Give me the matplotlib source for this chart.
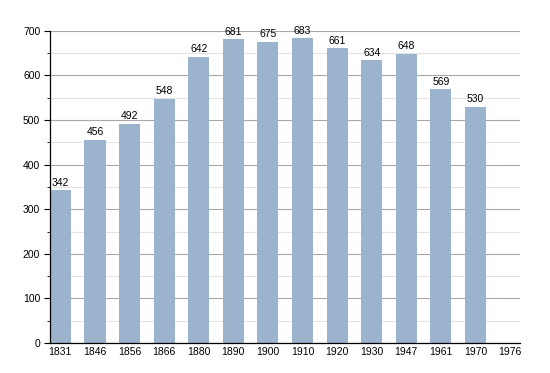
import matplotlib
matplotlib.use("Agg")
import matplotlib.pyplot as plt
from matplotlib.ticker import MultipleLocator

plt.rcParams['font.family'] = ['Liberation Sans', 'DejaVu Sans']

years = ['1831', '1846', '1856', '1866', '1880', '1890', '1900',
         '1910', '1920', '1930', '1947', '1961', '1970', '1976']
population = [342, 456, 492, 548, 642, 681, 675, 683, 661, 634, 648, 569, 530, None]

fig = plt.figure(figsize=(5.5, 3.73), dpi=100)
ax = fig.add_axes([0.0909, 0.0804, 0.854, 0.837])

xs = list(range(len(years)))
for x, v in zip(xs, population):
    if v is None:
        continue
    ax.bar(x, v, width=0.61, color='#9bb3cd', zorder=2)
    ax.text(x, v + 6, str(v), ha='center', va='bottom', fontsize=7.5, zorder=3)

ax.set_xlim(-0.30, 13.28)
ax.set_ylim(0, 700)
ax.yaxis.set_major_locator(MultipleLocator(100))
ax.yaxis.set_minor_locator(MultipleLocator(50))
ax.grid(axis='y', which='major', color='#a8a8a8', linewidth=0.8, zorder=0)
ax.grid(axis='y', which='minor', color='#e2e2e2', linewidth=0.8, zorder=0)
ax.set_xticks(xs)
ax.set_xticklabels(years)
ax.tick_params(axis='x', length=0, labelsize=7.5, pad=3)
ax.tick_params(axis='y', which='major', length=4, labelsize=7.5, pad=3)
ax.tick_params(axis='y', which='minor', length=2)

for s in ['top', 'right']:
    ax.spines[s].set_visible(False)
ax.spines['left'].set_linewidth(0.9)
ax.spines['bottom'].set_linewidth(0.9)

fig.savefig('out.png', dpi=100)
